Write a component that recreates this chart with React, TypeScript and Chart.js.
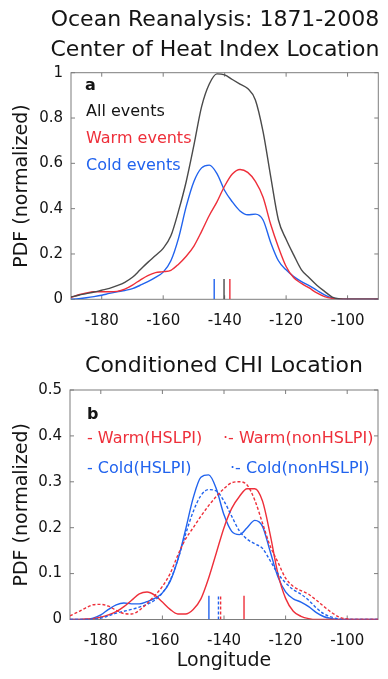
import React, { useEffect, useRef } from 'react';
import { Chart, registerables } from 'chart.js';

Chart.register(...registerables);

const FONT = "'DejaVu Sans', sans-serif";
const RED = '#ee2f3a';
const BLUE = '#2163ee';
const GRAY = '#4a4a4a';
const TEXT = '#141414';

// Longitude sample grid (degrees)
const LON = [
  -190, -187.5, -185, -182.5, -180, -177.5, -175, -172.5, -170, -167.5,
  -165, -162.5, -160, -157.5, -155, -152.5, -150, -147.5, -145, -142.5,
  -140, -137.5, -135, -132.5, -130, -127.5, -125, -122.5, -120, -117.5,
  -115, -112.5, -110, -107.5, -105, -102.5, -100, -97.5, -95, -92.5, -90,
];
const X_TICKS = [-180, -160, -140, -120, -100];

// Panel a
const ALL_EVENTS = [
  0.01, 0.018, 0.025, 0.032, 0.04, 0.048, 0.06, 0.075, 0.097, 0.13,
  0.163, 0.193, 0.225, 0.28, 0.39, 0.52, 0.68, 0.85, 0.95, 0.995,
  0.99, 0.97, 0.95, 0.93, 0.88, 0.74, 0.54, 0.35, 0.265, 0.195,
  0.13, 0.095, 0.062, 0.035, 0.01, 0.002, 0, 0, 0, 0, 0,
];
const WARM_EVENTS = [
  0.008, 0.02, 0.028, 0.033, 0.033, 0.033, 0.035, 0.045, 0.063, 0.085,
  0.105, 0.118, 0.122, 0.128, 0.155, 0.19, 0.235, 0.3, 0.37, 0.43,
  0.5, 0.553, 0.573, 0.56, 0.52, 0.45, 0.33, 0.23, 0.145, 0.095,
  0.07, 0.05, 0.028, 0.012, 0.004, 0.001, 0, 0, 0, 0, 0,
];
const COLD_EVENTS = [
  0, 0.003, 0.007, 0.012, 0.018, 0.026, 0.033, 0.039, 0.047, 0.062,
  0.078, 0.097, 0.12, 0.17, 0.27, 0.41, 0.52, 0.58, 0.592, 0.555,
  0.48, 0.43, 0.39, 0.373, 0.376, 0.35, 0.25, 0.17, 0.13, 0.1,
  0.078, 0.06, 0.04, 0.02, 0.006, 0.001, 0, 0, 0, 0, 0,
];
const MARKERS_A = [-143.4, -140.2, -138.3]; // cold, all, warm
const MARKER_TOP_A = 0.09;

// Panel b
const WARM_HSLPI = [
  0, 0, 0.001, 0.002, 0.005, 0.01, 0.017, 0.028, 0.042, 0.056,
  0.06, 0.053, 0.038, 0.022, 0.012, 0.012, 0.022, 0.045, 0.09, 0.145,
  0.2, 0.242, 0.268, 0.285, 0.285, 0.258, 0.185, 0.1, 0.046, 0.018,
  0.007, 0.002, 0, 0, 0, 0, 0, 0, 0, 0, 0,
];
const WARM_NONHSLPI = [
  0.008, 0.016, 0.025, 0.032, 0.033, 0.029, 0.02, 0.013, 0.012, 0.02,
  0.035, 0.052, 0.072, 0.1, 0.14, 0.175, 0.2, 0.225, 0.248, 0.268,
  0.285, 0.298, 0.3, 0.293, 0.26, 0.21, 0.16, 0.125, 0.09, 0.072,
  0.063, 0.055, 0.042, 0.028, 0.015, 0.005, 0.001, 0, 0, 0, 0,
];
const COLD_HSLPI = [
  0, 0, 0, 0.003, 0.01, 0.022, 0.032, 0.036, 0.034, 0.034,
  0.039, 0.046, 0.058, 0.083, 0.13, 0.195, 0.265, 0.31, 0.315, 0.285,
  0.228, 0.192, 0.185, 0.2, 0.216, 0.203, 0.148, 0.093, 0.06, 0.045,
  0.038, 0.028, 0.015, 0.006, 0.002, 0, 0, 0, 0, 0, 0,
];
const COLD_NONHSLPI = [
  0, 0, 0, 0.001, 0.003, 0.008, 0.014, 0.018, 0.022, 0.027,
  0.033, 0.042, 0.058, 0.085, 0.13, 0.185, 0.235, 0.27, 0.283, 0.28,
  0.258, 0.225, 0.193, 0.175, 0.165, 0.155, 0.128, 0.1, 0.08, 0.065,
  0.055, 0.042, 0.025, 0.012, 0.005, 0.001, 0, 0, 0, 0, 0,
];
const MARKERS_B = [-144.9, -141.8, -141.1, -133.5]; // cold HSLPI, cold non, warm non, warm HSLPI
const MARKER_TOP_B = 0.052;

const DOT = [3, 2];

type TextItem = { text: string; x: number; y: number; color: string; font: string; align?: CanvasTextAlign };

function series(values: number[]) {
  return LON.map((x, i) => ({ x, y: values[i] }));
}

function curve(values: number[], color: string, dash: number[] = []) {
  return {
    data: series(values),
    borderColor: color,
    borderWidth: 1.4,
    borderDash: dash,
    pointRadius: 0,
    fill: false,
    cubicInterpolationMode: 'monotone' as const,
  };
}

function marker(x: number, top: number, color: string, dash: number[] = []) {
  return {
    data: [{ x, y: 0 }, { x, y: top }],
    borderColor: color,
    borderWidth: 1.4,
    borderDash: dash,
    pointRadius: 0,
    fill: false,
    tension: 0,
  };
}

const framePlugin = {
  id: 'frame',
  beforeDatasetsDraw(chart: any) {
    const { ctx, chartArea: a, scales } = chart;
    const x = scales.x;
    const y = scales.y;
    ctx.save();
    ctx.strokeStyle = '#7d7d7d';
    ctx.lineWidth = 1;
    ctx.strokeRect(a.left, a.top, a.right - a.left, a.bottom - a.top);
    const L = 4;
    ctx.beginPath();
    x.ticks.forEach((t: any) => {
      const p = x.getPixelForValue(t.value);
      ctx.moveTo(p, a.bottom);
      ctx.lineTo(p, a.bottom - L);
      ctx.moveTo(p, a.top);
      ctx.lineTo(p, a.top + L);
    });
    y.ticks.forEach((t: any) => {
      const p = y.getPixelForValue(t.value);
      ctx.moveTo(a.left, p);
      ctx.lineTo(a.left + L, p);
      ctx.moveTo(a.right, p);
      ctx.lineTo(a.right - L, p);
    });
    ctx.stroke();
    ctx.restore();
  },
};

function textPlugin(items: TextItem[]) {
  return {
    id: 'texts',
    afterDraw(chart: any) {
      const ctx = chart.ctx;
      ctx.save();
      ctx.textBaseline = 'alphabetic';
      items.forEach((it) => {
        ctx.font = it.font;
        ctx.fillStyle = it.color;
        ctx.textAlign = it.align || 'left';
        ctx.fillText(it.text, it.x, it.y);
      });
      ctx.restore();
    },
  };
}

function makeOptions(cfg: {
  ymax: number;
  ystep: number;
  padTop: number;
  padRight: number;
  yWidth: number;
  xHeight: number;
  xTitle?: string;
}) {
  return {
    responsive: false,
    maintainAspectRatio: false,
    animation: false as const,
    events: [] as any[],
    layout: { padding: { top: cfg.padTop, right: cfg.padRight, bottom: 0, left: 0 } },
    plugins: { legend: { display: false }, tooltip: { enabled: false }, title: { display: false } },
    scales: {
      x: {
        type: 'linear' as const,
        min: -190,
        max: -90,
        afterBuildTicks: (s: any) => {
          s.ticks = X_TICKS.map((v) => ({ value: v }));
        },
        afterFit: (s: any) => {
          s.height = cfg.xHeight;
        },
        grid: { display: false, drawTicks: false },
        border: { display: false },
        ticks: {
          font: { family: FONT, size: 15 },
          color: TEXT,
          padding: 13,
          maxRotation: 0,
          autoSkip: false,
          callback: (v: any) => String(v),
        },
        title: cfg.xTitle
          ? { display: true, text: cfg.xTitle, color: TEXT, font: { family: FONT, size: 19, lineHeight: 1.2 }, padding: { top: 0, bottom: 7 } }
          : { display: false },
      },
      y: {
        type: 'linear' as const,
        min: 0,
        max: cfg.ymax,
        afterFit: (s: any) => {
          s.width = cfg.yWidth;
        },
        grid: { display: false, drawTicks: false },
        border: { display: false },
        ticks: {
          stepSize: cfg.ystep,
          font: { family: FONT, size: 15 },
          color: TEXT,
          padding: 8,
          callback: (v: any) => String(parseFloat(Number(v).toFixed(2))),
        },
        title: {
          display: true,
          text: 'PDF (normalized)',
          color: TEXT,
          font: { family: FONT, size: 19, lineHeight: 1.2 },
          padding: { top: 10.5, bottom: 0 },
        },
      },
    },
  };
}

export default function App() {
  const topRef = useRef<HTMLCanvasElement>(null);
  const botRef = useRef<HTMLCanvasElement>(null);

  useEffect(() => {
    const f16 = `16px ${FONT}`;
    const fb16 = `bold 16px ${FONT}`;
    const f22 = `22px ${FONT}`;

    const chartA = new Chart(topRef.current as HTMLCanvasElement, {
      type: 'line',
      data: {
        datasets: [
          curve(ALL_EVENTS, GRAY),
          curve(WARM_EVENTS, RED),
          curve(COLD_EVENTS, BLUE),
          marker(MARKERS_A[0], MARKER_TOP_A, BLUE),
          marker(MARKERS_A[1], MARKER_TOP_A, GRAY),
          marker(MARKERS_A[2], MARKER_TOP_A, RED),
        ] as any,
      },
      options: makeOptions({ ymax: 1, ystep: 0.2, padTop: 72.7, padRight: 9.7, yWidth: 71, xHeight: 35.7 }) as any,
      plugins: [
        framePlugin,
        textPlugin([
          { text: 'Ocean Reanalysis: 1871-2008', x: 215, y: 26, color: TEXT, font: f22, align: 'center' },
          { text: 'Center of Heat Index Location', x: 215, y: 56, color: TEXT, font: f22, align: 'center' },
          { text: 'a', x: 85, y: 89.5, color: TEXT, font: fb16 },
          { text: 'All events', x: 86, y: 116, color: TEXT, font: f16 },
          { text: 'Warm events', x: 86, y: 142.5, color: RED, font: f16 },
          { text: 'Cold events', x: 86, y: 169.5, color: BLUE, font: f16 },
        ]),
      ] as any,
    });

    const chartB = new Chart(botRef.current as HTMLCanvasElement, {
      type: 'line',
      data: {
        datasets: [
          curve(WARM_NONHSLPI, RED, DOT),
          curve(COLD_NONHSLPI, BLUE, DOT),
          curve(WARM_HSLPI, RED),
          curve(COLD_HSLPI, BLUE),
          marker(MARKERS_B[0], MARKER_TOP_B, BLUE),
          marker(MARKERS_B[1], MARKER_TOP_B, BLUE, DOT),
          marker(MARKERS_B[2], MARKER_TOP_B, RED, DOT),
          marker(MARKERS_B[3], MARKER_TOP_B, RED),
        ] as any,
      },
      options: makeOptions({ ymax: 0.5, ystep: 0.1, padTop: 55, padRight: 10, yWidth: 70, xHeight: 59.5, xTitle: 'Longitude' }) as any,
      plugins: [
        framePlugin,
        textPlugin([
          { text: 'Conditioned CHI Location', x: 224, y: 36.5, color: TEXT, font: f22, align: 'center' },
          { text: 'b', x: 87, y: 84, color: TEXT, font: fb16 },
          { text: '- Warm(HSLPI)', x: 87, y: 107.5, color: RED, font: f16 },
          { text: '- Cold(HSLPI)', x: 87, y: 137.5, color: BLUE, font: f16 },
          { text: '·- Warm(nonHSLPI)', x: 223, y: 107.5, color: RED, font: f16 },
          { text: '·- Cold(nonHSLPI)', x: 230, y: 137.5, color: BLUE, font: f16 },
        ]),
      ] as any,
    });

    return () => {
      chartA.destroy();
      chartB.destroy();
    };
  }, []);

  return (
    <div style={{ position: 'absolute', left: 0, top: 0, width: 388, height: 679, background: '#fff', overflow: 'hidden' }}>
      <canvas ref={topRef} width={388} height={335} style={{ position: 'absolute', left: 0, top: 0, display: 'block' }} />
      <canvas ref={botRef} width={388} height={344} style={{ position: 'absolute', left: 0, top: 335, display: 'block' }} />
    </div>
  );
}
